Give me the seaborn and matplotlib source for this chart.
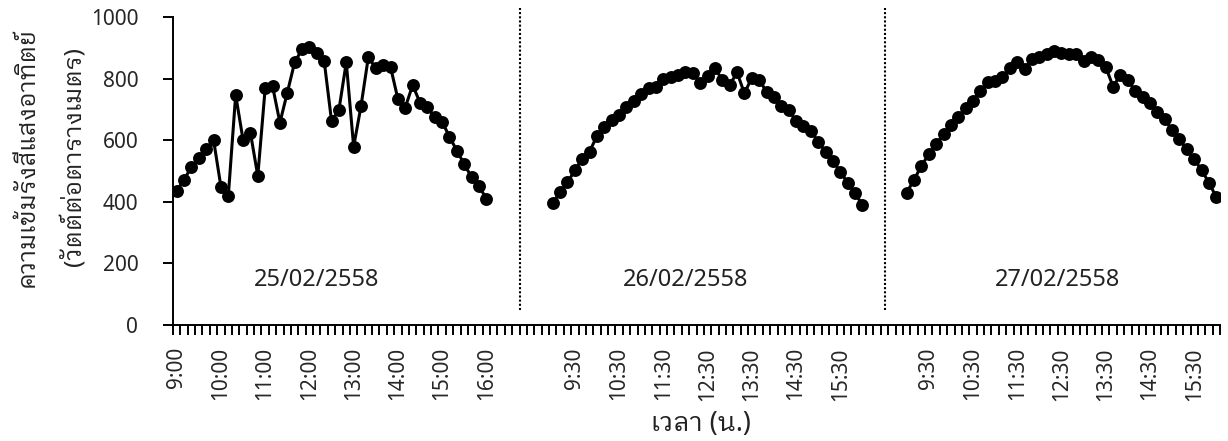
import numpy as np
import pandas as pd
import matplotlib
matplotlib.use("Agg")
import matplotlib.pyplot as plt
import seaborn as sns
from matplotlib import font_manager
from matplotlib.ft2font import FT2Font

# ---------------- data ----------------
day_labels = ["25/02/2558", "26/02/2558", "27/02/2558"]

day1_values = [436, 471, 514, 541, 571, 601, 449, 419, 747, 601, 624, 484, 768, 776,
               657, 754, 853, 895, 904, 882, 858, 663, 698, 853, 579, 711, 871, 833,
               844, 838, 734, 706, 779, 722, 707, 674, 660, 611, 566, 522, 480, 451, 410]
day2_values = [395, 431, 463, 502, 539, 563, 614, 644, 666, 682, 707, 728, 749, 768,
               774, 798, 806, 812, 820, 817, 785, 808, 835, 795, 779, 820, 752, 803,
               795, 758, 739, 711, 698, 663, 646, 631, 595, 563, 532, 498, 462, 428, 390]
day3_values = [430, 471, 517, 554, 588, 619, 649, 676, 706, 727, 761, 790, 792, 806,
               835, 853, 830, 864, 871, 879, 890, 882, 880, 879, 858, 869, 860, 838,
               774, 812, 794, 761, 741, 720, 693, 668, 633, 603, 570, 538, 503, 462, 415]

# time categories (10-minute readings 9:00 - 16:00)
times = [f"{h}:{m:02d}" for h in range(9, 17) for m in range(0, 60, 10)][:43]
gap_after_day1 = 8   # empty categories between day 1 and day 2
gap_after_day2 = 5   # empty categories between day 2 and day 3

categories = times + [""] * gap_after_day1 + times + [""] * gap_after_day2 + times
day_offsets = [0, len(times) + gap_after_day1,
               2 * len(times) + gap_after_day1 + gap_after_day2]

ylabel_line1 = "ความเข้มรังสีแสงอาทิตย์"
ylabel_line2 = "(วัตต์ต่อตารางเมตร)"
xlabel_text = "เวลา (น.)"

rows = []
for lab, off, vals in zip(day_labels, day_offsets, [day1_values, day2_values, day3_values]):
    for i, v in enumerate(vals):
        rows.append({"pos": off + i, "value": v, "day": lab})
df = pd.DataFrame(rows)

# ---------------- fonts ----------------
def find_thai_font():
    cands = []
    for f in font_manager.fontManager.ttflist:
        try:
            cm = FT2Font(f.fname).get_charmap()
        except Exception:
            continue
        if ord("ว") in cm and ord("ั") in cm:
            score = 0
            if "Thai" in f.name:
                score -= 2
            if "Sans" in f.name:
                score -= 1
            if "Looped" in f.name:
                score -= 1
            if "UI" in f.name:
                score += 1
            cands.append((score, f.name))
    cands.sort()
    return cands[0][1] if cands else None

sns.set_style("white")
thai = find_thai_font()
fam = ["Noto Sans"] + ([thai] if thai else []) + ["DejaVu Sans"]
plt.rcParams["font.family"] = fam

# ---------------- plot ----------------
fig = plt.figure(figsize=(12.28, 4.41), dpi=100)
ax = fig.add_axes([173 / 1228, 1 - 325 / 441, (1220 - 173) / 1228, (325 - 17) / 441])

sns.lineplot(data=df, x="pos", y="value", hue="day", palette=["black"] * 3,
             marker="o", markersize=9.3, markeredgewidth=0, linewidth=2.2,
             errorbar=None, legend=False, ax=ax)

ax.set_xlim(-0.5, len(categories) - 0.5)
ax.set_ylim(0, 1000)
ax.set_yticks([0, 200, 400, 600, 800, 1000])

major = list(range(0, len(categories), 6))
ax.set_xticks(major)
ax.set_xticklabels([categories[p] for p in major], rotation=90, fontsize=15)
ax.set_xticks(np.arange(-0.5, len(categories), 1), minor=True)
ax.tick_params(axis="x", which="major", length=0, pad=16)
ax.tick_params(axis="x", which="minor", length=7, width=1.4, direction="out",
               color="black", bottom=True)
ax.tick_params(axis="y", which="major", length=7, width=1.4, direction="out",
               color="black", left=True, labelsize=15, pad=18)

for s in ["top", "right"]:
    ax.spines[s].set_visible(False)
for s in ["left", "bottom"]:
    ax.spines[s].set_color("black")
    ax.spines[s].set_linewidth(1.4)

# day dividers
for xdiv in [(day_offsets[0] + len(times) - 1 + day_offsets[1]) / 2,
             (day_offsets[1] + len(times) - 1 + day_offsets[2]) / 2]:
    ax.axvline(xdiv, ymin=0.049, ymax=1.029, color="black", linestyle=(0, (1, 1)),
               linewidth=1.5, clip_on=False)

# date annotations
for lab, xpos in zip(day_labels, [19, 69, 119.4]):
    ax.text(xpos, 146, lab, ha="center", va="center", fontsize=17, color="#222222")

ax.set_xlabel("")
ax.set_ylabel("")
fig.text(701 / 1228, 1 - 424 / 441, xlabel_text, ha="center", va="center", fontsize=19,
         color="#222222")
fig.text(28 / 1228, 1 - 157 / 441, ylabel_line1, rotation=90, ha="center", va="center",
         fontsize=17.5, color="#222222")
fig.text(74 / 1228, 1 - 157 / 441, ylabel_line2, rotation=90, ha="center", va="center",
         fontsize=17.5, color="#222222")

fig.savefig("out.png", dpi=100)
